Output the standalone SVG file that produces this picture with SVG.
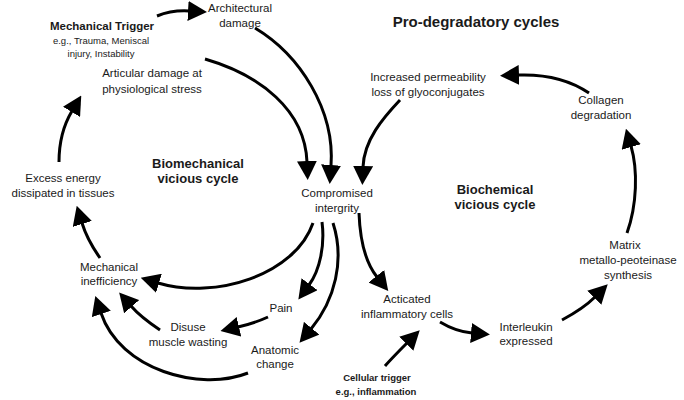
<svg xmlns="http://www.w3.org/2000/svg" width="684" height="400" viewBox="0 0 684 400">
<style>
text{font-family:"Liberation Sans",Arial,Helvetica,sans-serif;fill:#1a1a1a;text-anchor:middle}
.n{font-size:11.5px}
.s{font-size:9.5px}
.b{font-weight:bold}
.h{font-size:13px;font-weight:bold}
.t{font-size:15px;font-weight:bold}
.c path{fill:none;stroke:#000;stroke-width:3;marker-end:url(#ah)}
</style>
<defs>
<marker id="ah" markerUnits="userSpaceOnUse" markerWidth="19" markerHeight="20" viewBox="0 0 19 20" refX="1" refY="10" orient="auto">
<path d="M0,0 L19,10 L0,20 z" fill="#000"/>
</marker>
</defs>
<rect width="684" height="400" fill="#fff"/>
<text class="t" x="476" y="27">Pro-degradatory cycles</text>
<text class="h" x="198" y="168">Biomechanical</text>
<text class="h" x="198" y="183">vicious cycle</text>
<text class="h" x="495" y="194">Biochemical</text>
<text class="h" x="495" y="209">vicious cycle</text>
<g id="mechanical-trigger"><text class="n b" x="102" y="30">Mechanical Trigger</text><text class="s" x="101" y="44">e.g., Trauma, Meniscal</text><text class="s" x="101" y="57">injury, Instability</text></g>
<g id="architectural-damage"><text class="n" x="240" y="12">Architectural</text><text class="n" x="240" y="27">damage</text></g>
<g id="articular-damage"><text class="n" x="152" y="77">Articular damage at</text><text class="n" x="152" y="93">physiological stress</text></g>
<g id="excess-energy"><text class="n" x="63" y="182">Excess energy</text><text class="n" x="63" y="197">dissipated in tissues</text></g>
<g id="compromised"><text class="n" x="337" y="197">Compromised</text><text class="n" x="337" y="212">intergrity</text></g>
<g id="mechanical-inefficiency"><text class="n" x="109" y="271">Mechanical</text><text class="n" x="109" y="285">inefficiency</text></g>
<g id="pain"><text class="n" x="281" y="312">Pain</text></g>
<g id="disuse"><text class="n" x="188" y="331">Disuse</text><text class="n" x="188" y="346">muscle wasting</text></g>
<g id="anatomic-change"><text class="n" x="275" y="354">Anatomic</text><text class="n" x="275" y="368">change</text></g>
<g id="increased-permeability"><text class="n" x="428" y="81">Increased permeability</text><text class="n" x="428" y="96">loss of glyoconjugates</text></g>
<g id="collagen"><text class="n" x="601" y="104">Collagen</text><text class="n" x="601" y="119">degradation</text></g>
<g id="matrix"><text class="n" x="625" y="249">Matrix</text><text class="n" x="628" y="264">metallo-peoteinase</text><text class="n" x="628" y="279">synthesis</text></g>
<g id="acticated"><text class="n" x="407" y="303">Acticated</text><text class="n" x="407" y="318">inflammatory cells</text></g>
<g id="interleukin"><text class="n" x="526" y="331">Interleukin</text><text class="n" x="526" y="345">expressed</text></g>
<g id="cellular-trigger"><text class="s b" x="377" y="381">Cellular trigger</text><text class="s b" x="376" y="395">e.g., inflammation</text></g>
<g id="connectors" class="c">
<path d="M157,16 Q172,10 189,11"/>
<path d="M255,28 C300,55 335,110 331,166"/>
<path d="M205,59 C260,75 305,110 307,162"/>
<path d="M400,100 C383,118 364,140 363,167"/>
<path d="M589,93 C570,80 545,74 518,75"/>
<path d="M627,233 C637,205 638,170 631,146"/>
<path d="M562,320 C575,313 587,305 595,297"/>
<path d="M440,322 C450,328 460,332 472,333"/>
<path d="M385,366 C392,358 400,350 407,343"/>
<path d="M359,213 C360,240 365,262 377,277"/>
<path d="M59,162 C59,144 63,126 72,111"/>
<path d="M100,258 C93,248 86,236 82,223"/>
<path d="M313,223 C295,275 215,300 158,283"/>
<path d="M322,222 C325,245 320,270 309,285"/>
<path d="M333,223 C345,260 335,300 311,329"/>
<path d="M268,317 Q255,323 238,327"/>
<path d="M160,330 C148,322 138,314 131,306"/>
<path d="M248,373 C200,392 120,370 101,313"/>
</g>
</svg>
